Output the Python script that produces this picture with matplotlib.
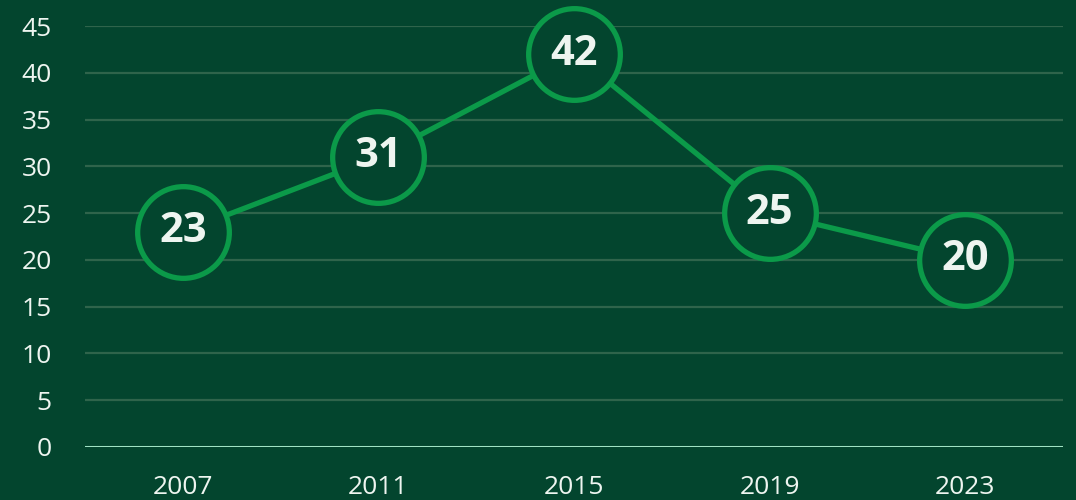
import matplotlib.pyplot as plt

years = ["2007", "2011", "2015", "2019", "2023"]
values = [23, 31, 42, 25, 20]
y_ticks = [0, 5, 10, 15, 20, 25, 30, 35, 40, 45]

BG = "#03452e"
GRID = "#2f644b"
AXIS = "#aef2d3"
LINE = "#0b9a49"
TEXT = "#eef5f0"

plt.rcParams["font.family"] = ["Open Sans", "DejaVu Sans"]

fig = plt.figure(figsize=(10.76, 5.0), dpi=100, facecolor=BG)
ax = fig.add_axes([0.079, 0.106, 0.909, 0.842], facecolor=BG)

x = list(range(len(years)))
ax.plot(x, values, color=LINE, linewidth=3.8, zorder=3, clip_on=False)
ax.plot(x, values, linestyle="none", marker="o", markersize=66,
        markerfacecolor=BG, markeredgecolor=LINE, markeredgewidth=3.8,
        zorder=4, clip_on=False)
for xi, v in zip(x, values):
    ax.text(xi, v, str(v), ha="center", va="center", color=TEXT,
            fontsize=30, fontweight="bold", zorder=5)

ax.set_xlim(-0.5, len(years) - 0.5)
ax.set_ylim(0, 45)
ax.set_xticks(x)
ax.set_xticklabels(years)
ax.set_yticks(y_ticks)
ax.tick_params(axis="both", length=0, colors=TEXT, labelsize=19)
ax.tick_params(axis="x", pad=20)
ax.tick_params(axis="y", pad=24)

ax.yaxis.grid(True, color=GRID, linewidth=1.6)
ax.set_axisbelow(True)
ax.axhline(0, color=AXIS, linewidth=2, zorder=2)
for s in ax.spines.values():
    s.set_visible(False)

fig.savefig("out.png", dpi=100, facecolor=BG)
